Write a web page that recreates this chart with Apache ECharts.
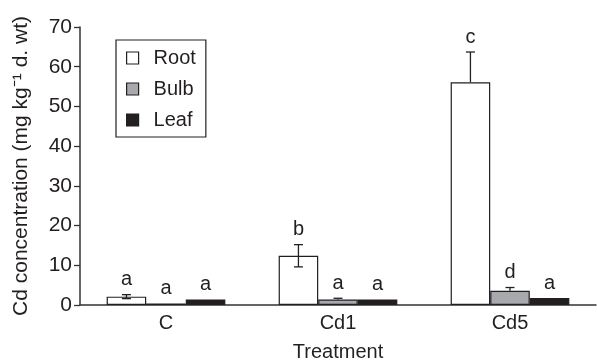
<!DOCTYPE html>
<html><head><meta charset="utf-8">
<script src="https://cdn.jsdelivr.net/npm/echarts@6/dist/echarts.min.js"></script>
<style>html,body{margin:0;padding:0;background:#fff}#c{width:597px;height:361px}</style>
</head><body><div id="c"></div>
<script>
const categories = ['C', 'Cd1', 'Cd5'];
const seriesNames = ['Root', 'Bulb', 'Leaf'];
const rootVals = [2.1, 12.4, 56.1];
const bulbVals = [0.4, 1.4, 3.6];
const leafVals = [1.4, 1.4, 1.75];
const rootErrUp = [0.5, 2.8, 7.6];
const rootErrDown = [0.5, 2.8, 0];
const bulbErrUp = [0, 0.3, 0.8];
const bulbErrDown = [0, 0, 0];
const leafErrUp = [0, 0, 0];
const leafErrDown = [0, 0, 0];
const rootLetters = ['a', 'b', 'c'];
const bulbLetters = ['a', 'a', 'd'];
const leafLetters = ['a', 'a', 'a'];
const yTicks = [0, 10, 20, 30, 40, 50, 60, 70];

const values = [rootVals, bulbVals, leafVals];
const errUp = [rootErrUp, bulbErrUp, leafErrUp];
const errDown = [rootErrDown, bulbErrDown, leafErrDown];
const letters = [rootLetters, bulbLetters, leafLetters];
const colors = ['#ffffff', '#a7a9ac', '#231f20'];
const GAP = 0.31;
const FONT = 'Liberation Sans, Arial, sans-serif';
const FS = 20;

const chart = echarts.init(document.getElementById('c'));
const series = [];
seriesNames.forEach((name, s) => {
  series.push({
    name, type: 'bar', data: values[s],
    barGap: 0, barCategoryGap: (GAP * 100) + '%',
    itemStyle: { color: colors[s], borderColor: '#231f20', borderWidth: 1.2 },
    silent: true
  });
});
seriesNames.forEach((name, s) => {
  series.push({
    type: 'custom', silent: true, z: 10,
    data: categories.map((c, i) => [i, values[s][i], errUp[s][i], errDown[s][i]]),
    renderItem: function (params, api) {
      const i = api.value(0), v = api.value(1), up = api.value(2), dn = api.value(3);
      const letter = letters[s][i];
      const band = api.size([1, 0])[0];
      const bw = band * (1 - GAP) / 3;
      const base = api.coord([i, v]);
      const x = base[0] + (s - 1) * bw;
      const yTop = api.coord([i, v + up])[1];
      const yBot = api.coord([i, v - dn])[1];
      const children = [];
      const st = { stroke: '#231f20', lineWidth: 1.3 };
      if (up > 0 || dn > 0) {
        children.push({ type: 'line', shape: { x1: x, y1: yTop, x2: x, y2: yBot }, style: st });
        if (up > 0) children.push({ type: 'line', shape: { x1: x - 4.5, y1: yTop, x2: x + 4.5, y2: yTop }, style: st });
        if (dn > 0) children.push({ type: 'line', shape: { x1: x - 4.5, y1: yBot, x2: x + 4.5, y2: yBot }, style: st });
      }
      children.push({ type: 'text', style: { text: letter, x: x, y: yTop - 5, textAlign: 'center', textVerticalAlign: 'bottom', font: FS + 'px ' + FONT, fill: '#231f20' } });
      return { type: 'group', children };
    }
  });
});

chart.setOption({
  animation: false,
  grid: { left: 80, right: 1, top: 27, bottom: 56, outerBoundsMode: 'none', containLabel: false },
  legend: {
    data: seriesNames, orient: 'vertical', left: 116, top: 40,
    itemWidth: 12, itemHeight: 12, itemGap: 11,
    padding: [8, 10, 7, 10],
    borderColor: '#231f20', borderWidth: 1.2,
    textStyle: { fontSize: FS, fontFamily: FONT, color: '#231f20', padding: [0, 0, 0, 10] },
    icon: 'rect',
    itemStyle: { borderColor: '#231f20', borderWidth: 1.2 }
  },
  xAxis: {
    type: 'category', data: categories,
    name: 'Treatment', nameLocation: 'middle', nameGap: 37,
    nameTextStyle: { fontSize: FS, fontFamily: FONT, color: '#231f20', verticalAlign: 'top' },
    axisLine: { lineStyle: { color: '#333', width: 1.5 } },
    axisTick: { inside: true, length: 6, lineStyle: { color: '#333', width: 1.3 } },
    axisLabel: { fontSize: FS, fontFamily: FONT, color: '#231f20', margin: 8 }
  },
  yAxis: {
    type: 'value', min: yTicks[0], max: yTicks[yTicks.length - 1], interval: 10,
    name: 'Cd concentration (mg kg\u207B\u00B9 d. wt)', nameLocation: 'middle', nameGap: 48,
    nameTextStyle: { fontSize: 21, fontFamily: FONT, color: '#231f20' },
    axisLine: { show: true, lineStyle: { color: '#333', width: 1.5 } },
    axisTick: { show: true, length: 6, lineStyle: { color: '#333', width: 1.3 } },
    axisLabel: { fontSize: 21, fontFamily: FONT, color: '#231f20', margin: 8 },
    splitLine: { show: false }
  },
  series
});
</script></body></html>
